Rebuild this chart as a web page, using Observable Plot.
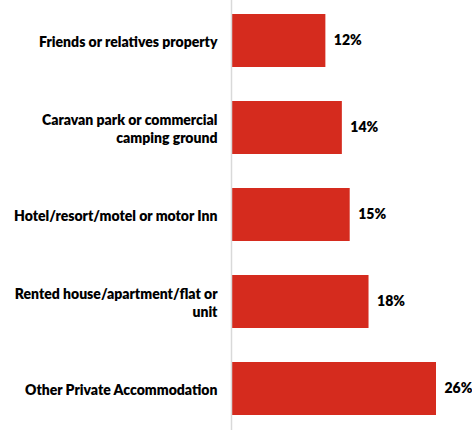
<!DOCTYPE html>
<html>
<head>
<meta charset="utf-8">
<script src="https://cdn.jsdelivr.net/npm/d3@7"></script>
<script src="https://cdn.jsdelivr.net/npm/@observablehq/plot@0.6"></script>
<style>
  html, body { margin: 0; padding: 0; background: #fff; }
  #chart svg { display: block; }
</style>
</head>
<body>
<div id="chart"></div>
<script>
const categories = [
  "Friends or relatives property",
  "Caravan park or commercial camping ground",
  "Hotel/resort/motel or motor Inn",
  "Rented house/apartment/flat or unit",
  "Other Private Accommodation"
];
const categoryLabels = [
  "Friends or relatives property",
  "Caravan park or commercial\ncamping ground",
  "Hotel/resort/motel or motor Inn",
  "Rented house/apartment/flat or\nunit",
  "Other Private Accommodation"
];
const values = [11.9, 14, 15, 17.4, 26];
const valueLabels = ["12%", "14%", "15%", "18%", "26%"];

const data = categories.map((c, i) => ({
  category: c,
  label: categoryLabels[i],
  value: values[i],
  valueLabel: valueLabels[i]
}));

const font = "Lato, 'Open Sans', sans-serif";

const chart = Plot.plot({
  width: 472,
  height: 430,
  marginLeft: 232,
  marginRight: 36,
  marginTop: 0,
  marginBottom: 0,
  style: { fontFamily: font, background: "#fff" },
  x: { domain: [0, 26], axis: null },
  y: { domain: categories, axis: null, paddingInner: 0.39, paddingOuter: 0.14 },
  marks: [
    Plot.barX(data, { x: "value", y: "category", fill: "#d52b1e" }),
    Plot.ruleX([0], { stroke: "#d9d9d9", strokeWidth: 1.5, dx: -1 }),
    Plot.text(data, {
      x: 0, y: "category", text: "label",
      textAnchor: "end", dx: -15, lineHeight: 1.3,
      fontWeight: 800, fontSize: 14, fill: "#000"
    }),
    Plot.text(data, {
      x: "value", y: "category", text: "valueLabel",
      textAnchor: "start", dx: 8,
      fontWeight: 800, fontSize: 14, fill: "#000"
    })
  ]
});
document.getElementById("chart").appendChild(chart);
</script>
</body>
</html>
